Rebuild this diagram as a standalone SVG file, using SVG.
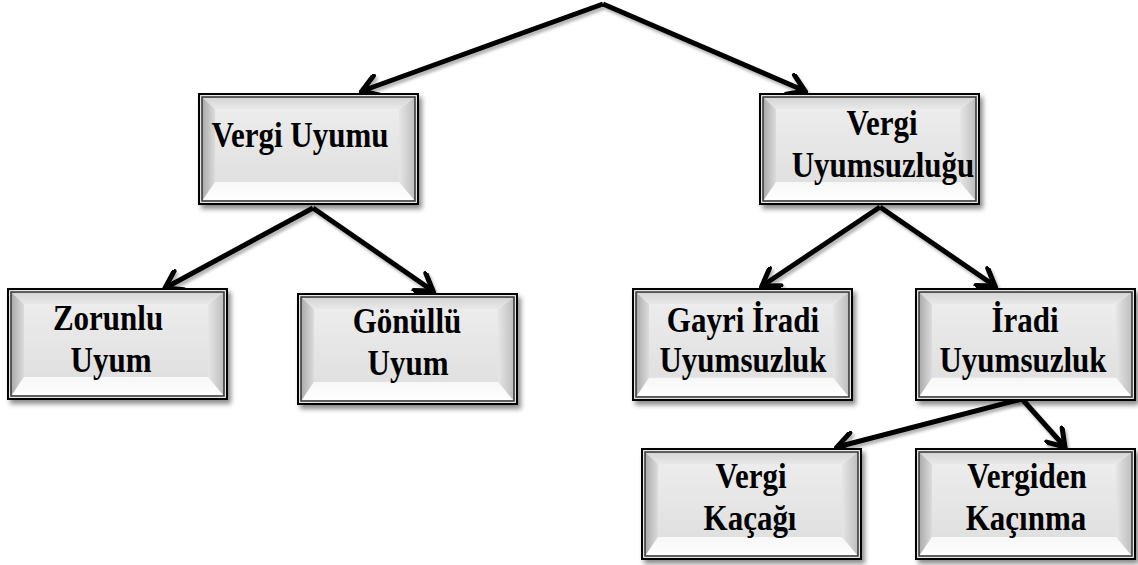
<svg xmlns="http://www.w3.org/2000/svg" xmlns:xlink="http://www.w3.org/1999/xlink" width="1138" height="565" viewBox="0 0 1138 565">
<style>
.lbl{font-family:"Liberation Serif","Times New Roman",serif;font-weight:bold;font-size:31px;fill:#000;text-anchor:middle}
.con{fill:none;stroke:#000;stroke-width:5;marker-end:url(#arr)}
</style>
<defs>
<filter id="sh" x="-10%" y="-10%" width="125%" height="130%">
<feDropShadow dx="3" dy="4" stdDeviation="2.5" flood-color="#000" flood-opacity="0.45"/>
</filter>
<filter id="lsh" x="-10%" y="-20%" width="130%" height="160%">
<feDropShadow dx="2" dy="3" stdDeviation="1.5" flood-color="#000" flood-opacity="0.3"/>
</filter>
<linearGradient id="gFace" x1="0" y1="0" x2="0" y2="1">
<stop offset="0" stop-color="#ececec"/><stop offset="1" stop-color="#e0e0e0"/>
</linearGradient>
<linearGradient id="gTop" x1="0" y1="0" x2="0" y2="1">
<stop offset="0" stop-color="#d4d4d4"/><stop offset="1" stop-color="#e8e8e8"/>
</linearGradient>
<linearGradient id="gBot" x1="0" y1="0" x2="0" y2="1">
<stop offset="0" stop-color="#f7f7f7"/><stop offset="1" stop-color="#ffffff"/>
</linearGradient>
<linearGradient id="gLeft" x1="0" y1="0" x2="1" y2="0">
<stop offset="0" stop-color="#a9a9a9"/><stop offset="1" stop-color="#dcdcdc"/>
</linearGradient>
<linearGradient id="gRight" x1="0" y1="0" x2="1" y2="0">
<stop offset="0" stop-color="#e6e6e6"/><stop offset="1" stop-color="#bdbdbd"/>
</linearGradient>
<symbol id="box" viewBox="0 0 221 112" preserveAspectRatio="none">
<rect x="1" y="1" width="219" height="110" fill="#fff"/>
<polygon points="4,4 217,4 201,16 17,16" fill="url(#gTop)"/>
<polygon points="4,108 217,108 201,89 17,89" fill="url(#gBot)"/>
<polygon points="4,4 17,16 17,89 4,108" fill="url(#gLeft)"/>
<polygon points="217,4 201,16 201,89 217,108" fill="url(#gRight)"/>
<rect x="17" y="16" width="184" height="73" fill="url(#gFace)"/>
<rect x="4" y="4" width="213" height="104" fill="none" stroke="#3a3a3a" stroke-width="1.6"/>
<rect x="1" y="1" width="219" height="110" fill="none" stroke="#000" stroke-width="2.2"/>
</symbol>
<marker id="arr" viewBox="0 0 24 24" refX="21" refY="12" markerWidth="24" markerHeight="24" markerUnits="userSpaceOnUse" orient="auto">
<path d="M5,1.5 L21,12 L5,22.5" fill="none" stroke="#000" stroke-width="5" stroke-linejoin="miter" stroke-linecap="round"/>
</marker>
</defs>
<g id="connectors" filter="url(#lsh)">
<path class="con" d="M603,4 L362,91"/>
<path class="con" d="M603,4 L805,91"/>
<path class="con" d="M313,208 L165,288"/>
<path class="con" d="M313,208 L433,291"/>
<path class="con" d="M880,207 L762,286"/>
<path class="con" d="M880,207 L995,286"/>
<path class="con" d="M1022,399 L837,447"/>
<path class="con" d="M1022,399 L1065,447"/>
</g>
<g id="n1">
<use xlink:href="#box" href="#box" x="198" y="93" width="221" height="112" filter="url(#sh)"/>
<text class="lbl" transform="translate(300,147) scale(1,1.13)">Vergi Uyumu</text>
</g>
<g id="n2">
<use xlink:href="#box" href="#box" x="759" y="93" width="221" height="112" filter="url(#sh)"/>
<text class="lbl" transform="translate(882,135) scale(1,1.13)">Vergi</text>
<text class="lbl" transform="translate(883,177) scale(1,1.13)">Uyumsuzluğu</text>
</g>
<g id="n3">
<use xlink:href="#box" href="#box" x="7" y="288" width="221" height="112" filter="url(#sh)"/>
<text class="lbl" transform="translate(108,330) scale(1,1.13)">Zorunlu</text>
<text class="lbl" transform="translate(111,372) scale(1,1.13)">Uyum</text>
</g>
<g id="n4">
<use xlink:href="#box" href="#box" x="297" y="293" width="221" height="112" filter="url(#sh)"/>
<text class="lbl" transform="translate(407,333) scale(1,1.13)">Gönüllü</text>
<text class="lbl" transform="translate(408,375) scale(1,1.13)">Uyum</text>
</g>
<g id="n5">
<use xlink:href="#box" href="#box" x="632" y="288" width="221" height="113" filter="url(#sh)"/>
<text class="lbl" transform="translate(743,332) scale(1,1.13)">Gayri İradi</text>
<text class="lbl" transform="translate(743,372) scale(1,1.13)">Uyumsuzluk</text>
</g>
<g id="n6">
<use xlink:href="#box" href="#box" x="915" y="288" width="221" height="113" filter="url(#sh)"/>
<text class="lbl" transform="translate(1025,332) scale(1,1.13)">İradi</text>
<text class="lbl" transform="translate(1023,372) scale(1,1.13)">Uyumsuzluk</text>
</g>
<g id="n7">
<use xlink:href="#box" href="#box" x="641" y="448" width="221" height="112" filter="url(#sh)"/>
<text class="lbl" transform="translate(751,488) scale(1,1.13)">Vergi</text>
<text class="lbl" transform="translate(750,530) scale(1,1.13)">Kaçağı</text>
</g>
<g id="n8">
<use xlink:href="#box" href="#box" x="915" y="448" width="221" height="112" filter="url(#sh)"/>
<text class="lbl" transform="translate(1027,488) scale(1,1.13)">Vergiden</text>
<text class="lbl" transform="translate(1026,530) scale(1,1.13)">Kaçınma</text>
</g>
</svg>
